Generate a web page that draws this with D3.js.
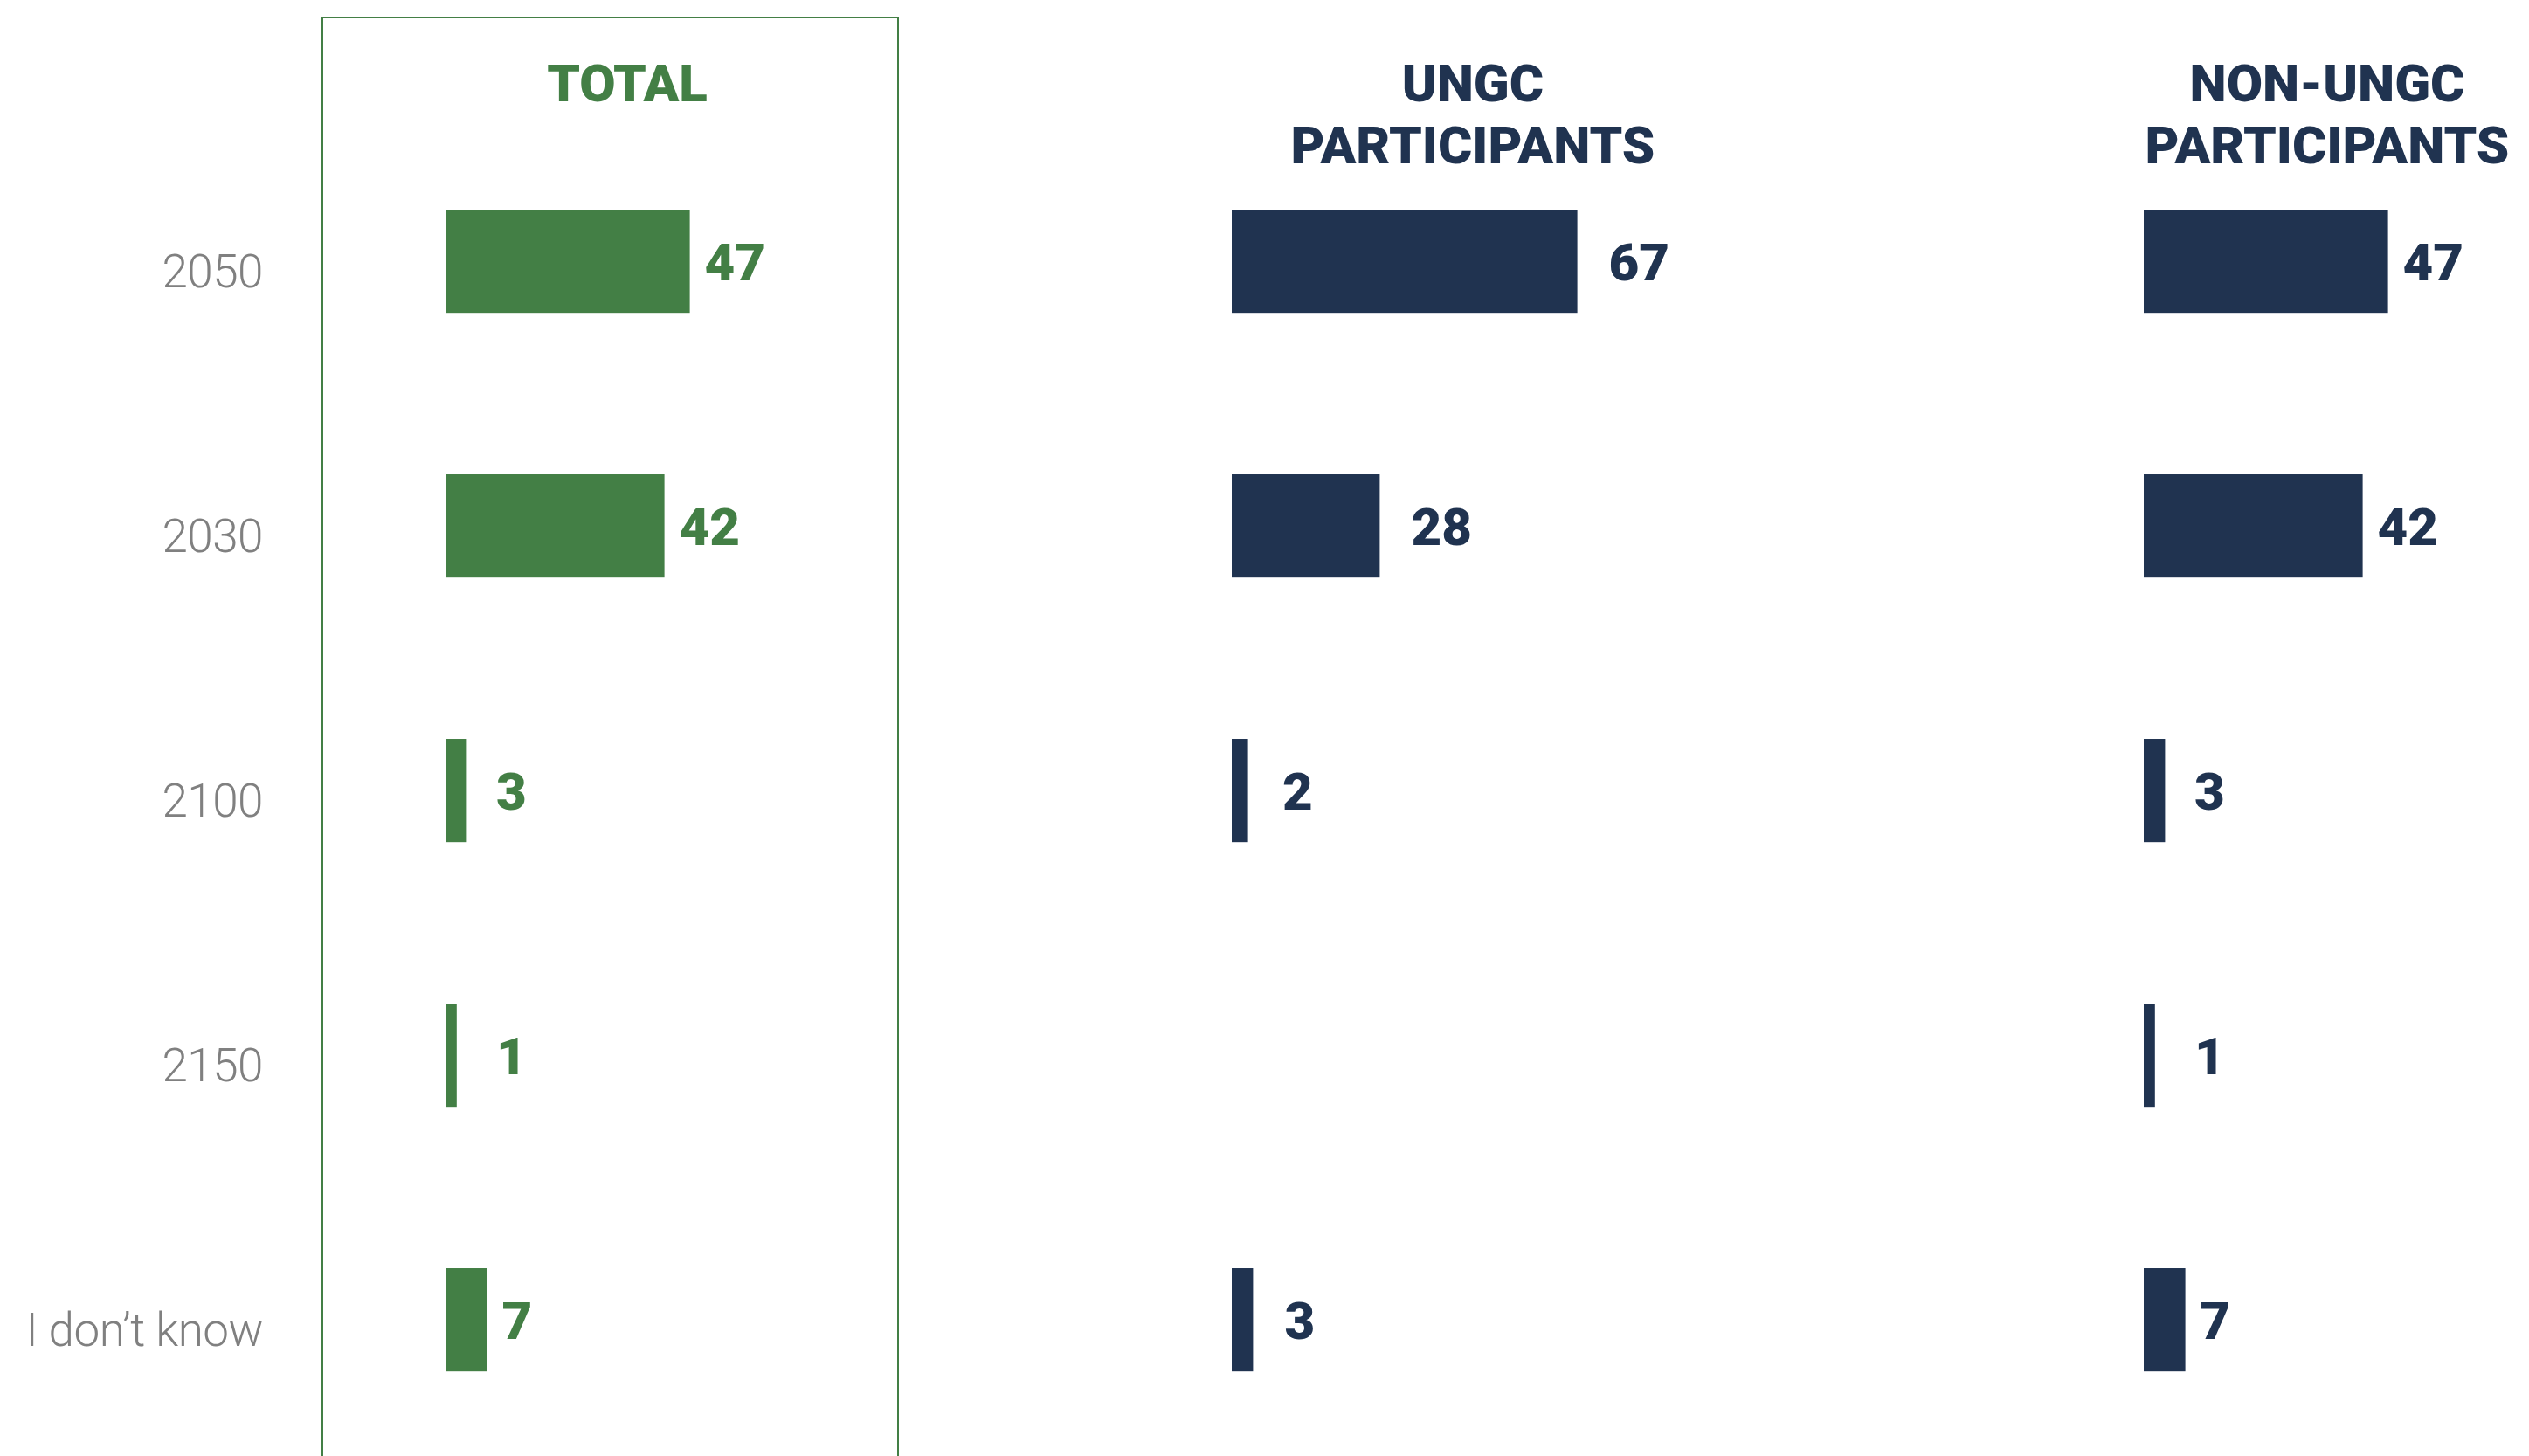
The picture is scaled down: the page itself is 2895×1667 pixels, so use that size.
<!DOCTYPE html>
<html lang="en">
<head>
  <meta charset="UTF-8">
  <title>Target year by group</title>
  <style>
    html, body {
      margin: 0;
      padding: 0;
      background: #ffffff;
    }
    svg {
      display: block;
    }
    .cat-label {
      font-family: 'Roboto', sans-serif;
      font-weight: 300;
      font-size: 53px;
      fill: #808080;
      text-anchor: end;
      letter-spacing: -0.5px;
    }
    .head, .value {
      font-family: 'Roboto', sans-serif;
      font-weight: 900;
      font-size: 60px;
    }
    .head {
      text-anchor: middle;
    }
  </style>
</head>
<body>
  <div id="chart"></div>

  <script src="https://d3js.org/d3.v7.min.js"></script>
  <script>
    // categories (rows) and the three series
    const categories = ['2050', '2030', '2100', '2150', "I don\u2019t know"];
    const totalValues = [47, 42, 3, 1, 7];
    const ungcValues = [67, 28, 2, null, 3];
    const nonUngcValues = [47, 42, 3, 1, 7];
    const seriesTitles = [['TOTAL'], ['UNGC', 'PARTICIPANTS'], ['NON-UNGC', 'PARTICIPANTS']];

    const width = 2895;
    const height = 1667;
    const green = '#437f45';
    const navy = '#203350';

    // layout of each panel: bar start, header centre, label gap, colour
    const panels = [
      { values: totalValues, title: seriesTitles[0], x0: 510, head: 718, gap: 17, color: green },
      { values: ungcValues, title: seriesTitles[1], x0: 1410, head: 1686, gap: 36, color: navy },
      { values: nonUngcValues, title: seriesTitles[2], x0: 2454, head: 2664, gap: 17, color: navy }
    ];

    const svg = d3.select('#chart').append('svg')
      .attr('width', width)
      .attr('height', height);

    const y = d3.scaleBand()
      .domain(categories)
      .range([147.6, 1662.6])
      .paddingInner(0.61)
      .paddingOuter(0.305);

    // small bars keep a minimum visible width
    const x = d3.scaleLinear().domain([0, 100]).range([7, 587]);

    // frame round the total column
    svg.append('rect')
      .attr('x', 369)
      .attr('y', 20)
      .attr('width', 659)
      .attr('height', 1700)
      .attr('fill', 'none')
      .attr('stroke', green)
      .attr('stroke-width', 2);

    // row labels
    svg.selectAll('.cat-label')
      .data(categories)
      .enter().append('text')
      .attr('class', 'cat-label')
      .attr('x', 301)
      .attr('y', d => y(d) + y.bandwidth() / 2 + 30)
      .text(d => d);

    panels.forEach(p => {
      const g = svg.append('g');

      g.selectAll('.head')
        .data(p.title)
        .enter().append('text')
        .attr('class', 'head')
        .attr('x', p.head)
        .attr('y', (d, i) => 116 + i * 71)
        .attr('fill', p.color)
        .text(d => d);

      const rows = categories.map((c, i) => ({ cat: c, v: p.values[i] }))
        .filter(d => d.v != null);

      g.selectAll('rect')
        .data(rows)
        .enter().append('rect')
        .attr('x', p.x0)
        .attr('y', d => y(d.cat))
        .attr('width', d => x(d.v))
        .attr('height', y.bandwidth())
        .attr('fill', p.color);

      g.selectAll('.value')
        .data(rows)
        .enter().append('text')
        .attr('class', 'value')
        .attr('x', d => Math.max(p.x0 + x(d.v) + p.gap, p.x0 + 58))
        .attr('y', d => y(d.cat) + y.bandwidth() / 2 + 22)
        .attr('fill', p.color)
        .text(d => d.v);
    });
  </script>
</body>
</html>
